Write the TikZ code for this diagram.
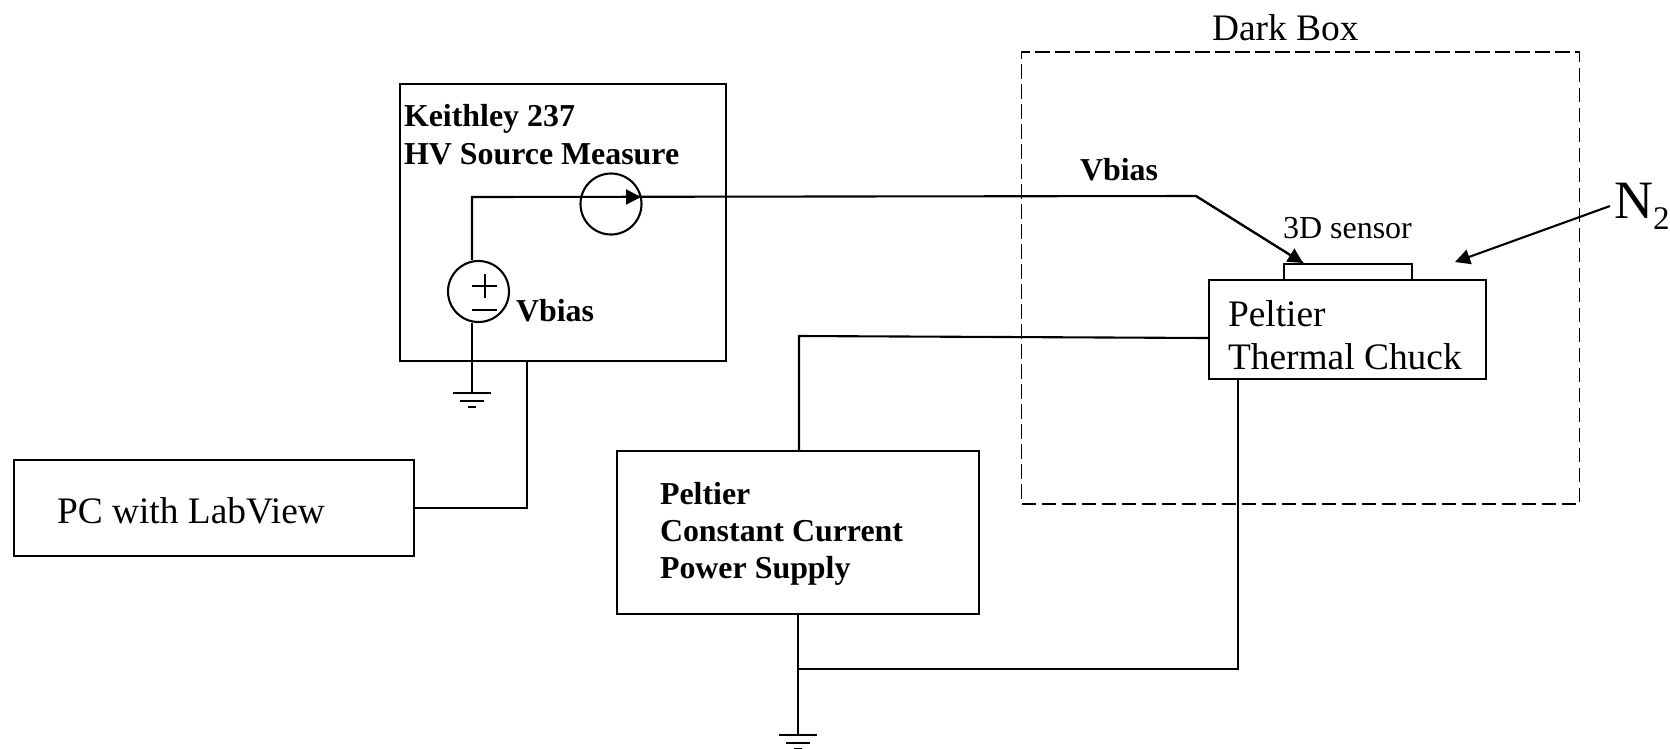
\documentclass[tikz,border=0pt]{standalone}
\usepackage{fontspec}
\setmainfont{Liberation Serif}
\usetikzlibrary{arrows.meta}
\tikzset{
  wire/.style={line width=2.1pt,black},
  tipwire/.style={wire,-{Triangle[length=15pt,width=15pt]}},
  box/.style={draw,line width=2.1pt,rectangle,inner sep=0pt,outer sep=0pt},
  darkbox/.style={box,line width=1.8pt,dash pattern=on 14.5pt off 5.5pt},
  source/.style={draw,line width=2.1pt,circle,inner sep=0pt,outer sep=0pt,minimum size=61pt},
  lab/.style={anchor=base west,inner sep=0pt,outer sep=0pt,align=left},
  bigtext/.style={lab,font=\fontsize{37.4}{43}\selectfont},
  boldtext/.style={lab,font=\fontsize{31.9}{38}\selectfont\bfseries},
  gnd/.pic={
    \draw[wire] (-19,0) -- (19,0);
    \draw[wire] (-12,8) -- (12,8);
    \draw[wire] (-4,14) -- (4,14);
  }
}
\begin{document}
\begin{tikzpicture}[x=1pt,y=-1pt]
\useasboundingbox[fill=white] (0,0) rectangle (1670,748);
% boxes
\node[darkbox,minimum width=558pt,minimum height=452pt] (dark) at (1300.5,278) {};
\node[box,minimum width=326pt,minimum height=277pt] (keith) at (563,222.5) {};
\node[box,minimum width=400pt,minimum height=96pt] (pc) at (214,508) {};
\node[box,minimum width=362pt,minimum height=163pt] (supply) at (798,532.5) {};
\node[box,minimum width=277pt,minimum height=99pt] (chuck) at (1347.5,329.5) {};
\node[box,minimum width=128pt,minimum height=16pt] (sensor) at (1348,272) {};
\node[source] (isrc) at (611,204) {};
\node[source] (vsrc) at (478.5,291.5) {};
% ground and routing points
\coordinate (gndA) at (472,393);
\coordinate (gndB) at (798,735);
\coordinate (corner) at (472,197);
\coordinate (bend) at (1196,196);
\coordinate (tipS) at (1303,263);
\coordinate (tipI) at (641,197);
\coordinate (keithOut) at (527,361);
\coordinate (pcTurn) at (527,508);
\coordinate (supTurn) at (799,336);
\coordinate (supTop) at (799,451);
\coordinate (chuckIn) at (1208,338);
\coordinate (junction) at (798,669);
\coordinate (chuckTurn) at (1238,669);
\coordinate (chuckOut) at (1238,379);
\coordinate (supBot) at (798,614);
\coordinate (nStart) at (1610,206);
\coordinate (nTip) at (1455,262);
\coordinate (vTop) at (472,260);
\coordinate (vBot) at (472,323);
% connectors
\draw[wire] (vTop) -- (corner) -- (bend) -- (tipS);
\draw[tipwire] (corner) -- (tipI);
\draw[tipwire] (bend) -- (tipS);
\draw[wire] (vBot) -- (gndA);
\pic at (gndA) {gnd};
\draw[wire] (keithOut) -- (pcTurn) -- (pc.east);
\draw[wire] (supTop) -- (supTurn) -- (chuckIn);
\draw[wire] (supBot) -- (gndB);
\pic at (gndB) {gnd};
\draw[wire] (junction) -- (chuckTurn) -- (chuckOut);
\draw[tipwire] (nStart) -- (nTip);
% plus and minus in the voltage source
\draw[wire] (472,286) -- (497,286) (485,274) -- (485,298);
\draw[wire] (472,310) -- (497,310);
% labels
\node[bigtext] (tDark) at (1212,40) {Dark Box};
\node[boldtext] (tK1) at (404,126) {Keithley 237};
\node[boldtext] (tK2) at (404,164) {HV Source Measure};
\node[boldtext] (tV1) at (516,321) {Vbias};
\node[boldtext] (tV2) at (1080,180) {Vbias};
\node[lab,font=\fontsize{32}{38}\selectfont] (tS) at (1283,238) {3D sensor};
\node[bigtext] (tN1) at (1228,326) {Peltier};
\node[bigtext] (tN2) at (1228,369) {Thermal Chuck};
\node[bigtext] (tPC) at (57,523) {PC with LabView};
\node[boldtext] (tP1) at (660,504) {Peltier};
\node[boldtext] (tP2) at (660,541) {Constant Current};
\node[boldtext] (tP3) at (660,578) {Power Supply};
\node[lab,font=\fontsize{54}{60}\selectfont] (tN) at (1614,218) {N\raisebox{-11pt}{\fontsize{33}{38}\selectfont 2}};
\end{tikzpicture}
\end{document}
